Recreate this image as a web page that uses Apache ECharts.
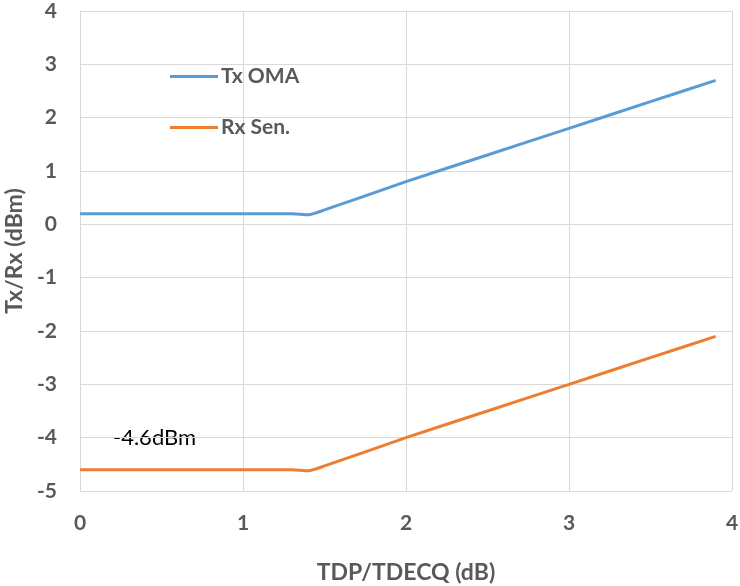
<!DOCTYPE html>
<html>
<head>
<meta charset="utf-8">
<script src="https://cdn.jsdelivr.net/npm/echarts@6/dist/echarts.min.js"></script>
<style>
  html, body { margin: 0; padding: 0; background: #fff; }
  #main { width: 740px; height: 586px; }
</style>
</head>
<body>
<div id="main"></div>
<script>
var xValues = [0, 0.5, 1, 1.3, 1.4, 1.5, 2, 2.5, 3, 3.5, 3.9];
var txOMA = [0.2, 0.2, 0.2, 0.2, 0.18, 0.27, 0.8, 1.3, 1.8, 2.3, 2.7];
var rxSen = [-4.6, -4.6, -4.6, -4.6, -4.62, -4.53, -4.0, -3.5, -3.0, -2.5, -2.1];

var grey = '#595959';
var font = 'Lato, "Open Sans", sans-serif';

var mychart = echarts.init(document.getElementById('main'));

function pairs(ys) {
    return xValues.map(function (x, i) { return [x, ys[i]]; });
}

var option = {
    animation: false,
    grid: { left: 80, top: 11, right: 8, bottom: 95, containLabel: false, outerBoundsMode: 'none' },
    legend: {
        orient: 'vertical',
        left: 165,
        top: 61,
        itemGap: 30,
        itemWidth: 48,
        itemHeight: 3,
        icon: 'rect',
        textStyle: { color: grey, fontSize: 21, fontWeight: 'bold', fontFamily: font, padding: [0, 0, 0, -2] },
        data: ['Tx OMA', 'Rx Sen.']
    },
    xAxis: {
        type: 'value',
        min: 0,
        max: 4,
        interval: 1,
        name: 'TDP/TDECQ (dB)',
        nameLocation: 'middle',
        nameGap: 70,
        nameTextStyle: { color: grey, fontSize: 23, fontWeight: 'bold', fontFamily: font },
        axisLine: { show: true, lineStyle: { color: '#d9d9d9' } },
        axisTick: { show: false },
        axisLabel: { color: grey, fontSize: 21, fontWeight: 'bold', fontFamily: font, margin: 22 },
        splitLine: { lineStyle: { color: '#d9d9d9' } }
    },
    yAxis: {
        type: 'value',
        min: -5,
        max: 4,
        interval: 1,
        name: 'Tx/Rx (dBm)',
        nameLocation: 'middle',
        nameGap: 53,
        nameTextStyle: { color: grey, fontSize: 23, fontWeight: 'bold', fontFamily: font },
        axisLine: { show: true, lineStyle: { color: '#d9d9d9' } },
        axisTick: { show: false },
        axisLabel: { color: grey, fontSize: 21, fontWeight: 'bold', fontFamily: font, margin: 23 },
        splitLine: { lineStyle: { color: '#d9d9d9' } }
    },
    series: [
        {
            name: 'Tx OMA',
            type: 'line',
            data: pairs(txOMA),
            showSymbol: false,
            smooth: 0.2,
            color: '#5B9BD5',
            lineStyle: { width: 3 }
        },
        {
            name: 'Rx Sen.',
            type: 'line',
            data: pairs(rxSen),
            showSymbol: false,
            smooth: 0.2,
            color: '#ED7D31',
            lineStyle: { width: 3 }
        }
    ],
    graphic: [
        {
            type: 'text',
            left: 113,
            top: 427,
            style: { text: '-4.6dBm', fill: '#000', fontSize: 22, fontFamily: font }
        }
    ]
};

mychart.setOption(option);
</script>
</body>
</html>
